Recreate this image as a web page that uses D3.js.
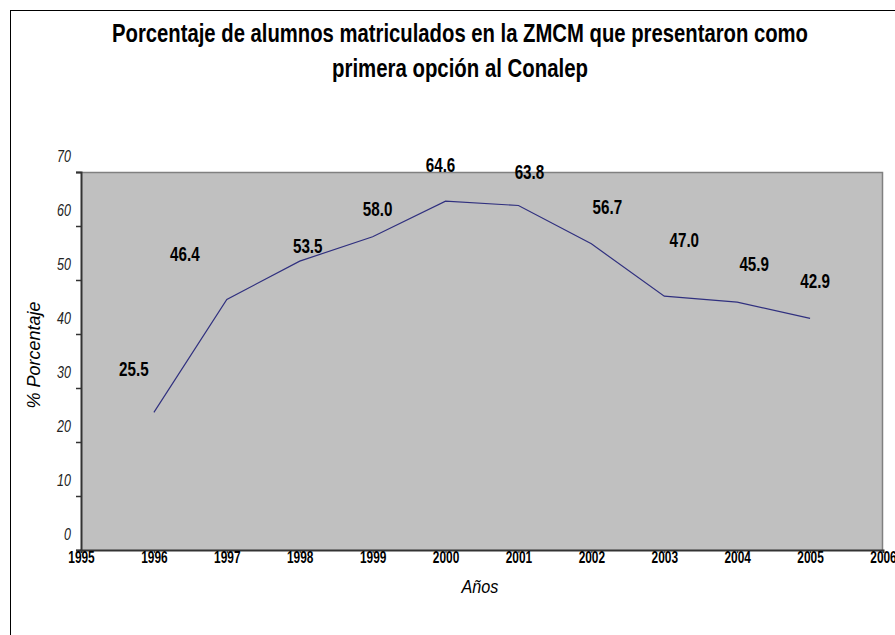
<!DOCTYPE html>
<html>
<head>
<meta charset="utf-8">
<script src="https://cdn.jsdelivr.net/npm/d3@7"></script>
<style>
  body { margin: 0; background: #fff; }
  svg text { font-family: "Liberation Sans", Arial, sans-serif; }
</style>
</head>
<body>
<svg id="chart" width="895" height="635"></svg>
<script>
// data
const years = [1996, 1997, 1998, 1999, 2000, 2001, 2002, 2003, 2004, 2005];
const values = [25.5, 46.4, 53.5, 58.0, 64.6, 63.8, 56.7, 47.0, 45.9, 42.9];
const xTicks = [1995, 1996, 1997, 1998, 1999, 2000, 2001, 2002, 2003, 2004, 2005, 2006];
const yTicks = [0, 10, 20, 30, 40, 50, 60, 70];
const titleLines = ["Porcentaje de alumnos matriculados en la ZMCM que presentaron como", "primera opción al Conalep"];

// hand nudges for the value labels (they were dragged around in the original)
const labelDx = [-20, -42, 8, 5, -5, 11, 16, 20, 17, 5];
const labelDy = [-43, -45, -15, -28, -36, -33, -37, -56, -38, -37];

const margin = { left: 81, top: 172, right: 12, bottom: 85 };
const width = 895, height = 635;

const svg = d3.select("#chart");

// no narrow font installed, so squeeze the text horizontally
function condense(sel, factor) {
    sel.each(function () {
        const len = this.getComputedTextLength();
        d3.select(this)
            .attr("textLength", len * factor)
            .attr("lengthAdjust", "spacingAndGlyphs");
    });
}

// outer frame of the chart object
svg.append("rect")
    .attr("x", 10.5).attr("y", 10.5)
    .attr("width", 900).attr("height", 700)
    .attr("fill", "none")
    .attr("stroke", "#000")
    .attr("stroke-width", 1);

const x = d3.scaleLinear().domain([1995, 2006]).range([margin.left, width - margin.right]);
const y = d3.scaleLinear().domain([0, 70]).range([height - margin.bottom, margin.top]);

// plot area
svg.append("rect")
    .attr("x", x(1995)).attr("y", y(70))
    .attr("width", x(2006) - x(1995)).attr("height", y(0) - y(70))
    .attr("fill", "#c0c0c0");

// gray top + right border
svg.append("path")
    .attr("d", `M${x(1995)},${y(70) + 0.5}H${x(2006) - 0.5}V${y(0)}`)
    .attr("fill", "none")
    .attr("stroke", "#808080")
    .attr("stroke-width", 1.5);

// y axis
const yAxis = svg.append("g")
    .attr("transform", `translate(${x(1995)},0)`)
    .call(d3.axisLeft(y).tickValues(yTicks).tickSize(5).tickFormat(""));
yAxis.select(".domain").attr("stroke", "#333").attr("stroke-width", 2);
yAxis.selectAll(".tick line").attr("stroke", "#333").attr("stroke-width", 1.5);

svg.append("g").selectAll("text")
    .data(yTicks)
    .join("text")
    .attr("x", 71)
    .attr("y", d => y(d) - 16)
    .attr("dy", "0.35em")
    .attr("text-anchor", "end")
    .attr("font-size", 16)
    .attr("font-style", "italic")
    .attr("fill", "#222")
    .text(d => d)
    .call(condense, 0.78);

// x axis
const xAxis = svg.append("g")
    .attr("transform", `translate(0,${y(0)})`)
    .call(d3.axisBottom(x).tickValues(xTicks).tickSize(3).tickFormat(d3.format("d")));
xAxis.select(".domain").attr("stroke", "#333").attr("stroke-width", 2);
xAxis.selectAll(".tick line").attr("stroke", "#333");
xAxis.selectAll(".tick text")
    .attr("y", 1)
    .attr("dy", "0.75em")
    .attr("font-size", 16.5)
    .attr("font-weight", "bold")
    .attr("fill", "#000")
    .style("font-family", "'Liberation Sans', Arial, sans-serif")
    .call(condense, 0.72);

// line
const line = d3.line().x((d, i) => x(years[i])).y(d => y(d));
svg.append("path")
    .datum(values)
    .attr("d", line)
    .attr("fill", "none")
    .attr("stroke", "#30307f")
    .attr("stroke-width", 1.2);

// value labels
svg.append("g").selectAll("text")
    .data(values)
    .join("text")
    .attr("x", (d, i) => x(years[i]) + labelDx[i])
    .attr("y", (d, i) => y(d) + labelDy[i])
    .attr("dy", "0.35em")
    .attr("text-anchor", "middle")
    .attr("font-size", 20)
    .attr("font-weight", "bold")
    .attr("fill", "#000")
    .text(d => d.toFixed(1))
    .call(condense, 0.76);

// title
const titleLen = [696, 256];
svg.append("g").selectAll("text")
    .data(titleLines)
    .join("text")
    .attr("x", 460)
    .attr("y", (d, i) => 42 + i * 35)
    .attr("text-anchor", "middle")
    .attr("font-size", 25)
    .attr("font-weight", "bold")
    .attr("fill", "#000")
    .attr("textLength", (d, i) => titleLen[i])
    .attr("lengthAdjust", "spacingAndGlyphs")
    .text(d => d);

// axis titles
svg.append("text")
    .attr("transform", `translate(34,355) rotate(-90)`)
    .attr("dy", "0.35em")
    .attr("text-anchor", "middle")
    .attr("font-size", 18)
    .attr("font-style", "italic")
    .text("% Porcentaje");

svg.append("text")
    .attr("x", 480)
    .attr("y", 587)
    .attr("dy", "0.35em")
    .attr("text-anchor", "middle")
    .attr("font-size", 18)
    .attr("font-style", "italic")
    .text("Años")
    .call(condense, 0.9);
</script>
</body>
</html>
